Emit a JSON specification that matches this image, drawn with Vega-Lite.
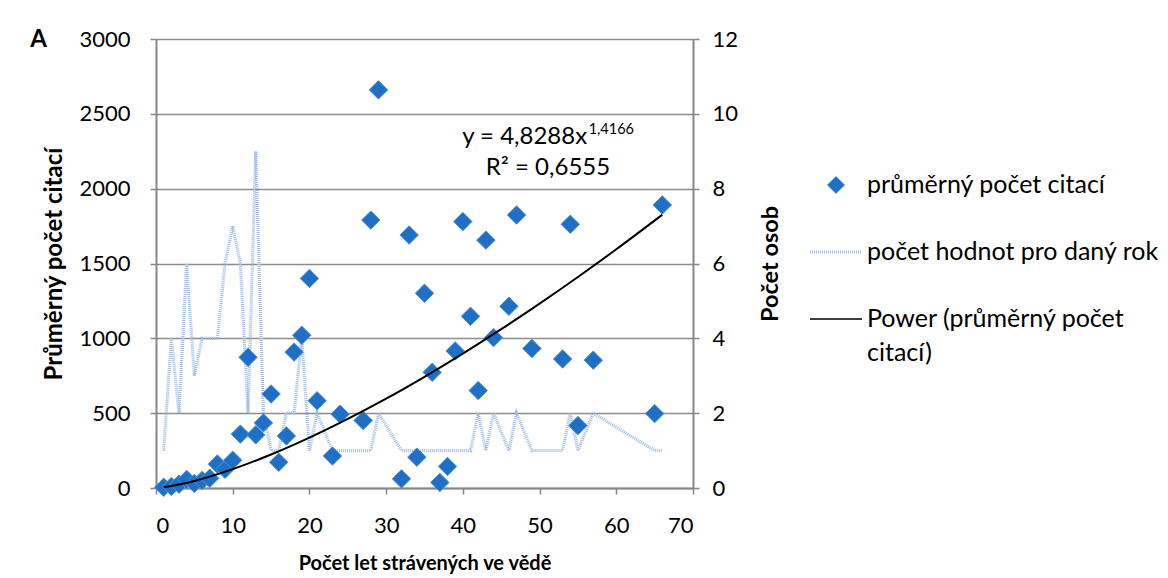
{
  "$schema": "https://vega.github.io/schema/vega-lite/v6.json",
  "width": 537,
  "height": 449,
  "autosize": "none",
  "padding": {"left": 156, "top": 39, "right": 475, "bottom": 90},
  "background": "white",
  "config": {"font": "Lato", "view": {"stroke": null}},
  "datasets": {
    "osoby": [
      {"rok": 1, "citace": 5, "osoby": 1},
      {"rok": 2, "citace": 10, "osoby": 4},
      {"rok": 3, "citace": 25, "osoby": 2},
      {"rok": 4, "citace": 57, "osoby": 6},
      {"rok": 5, "citace": 30, "osoby": 3},
      {"rok": 6, "citace": 50, "osoby": 4},
      {"rok": 7, "citace": 65, "osoby": 4},
      {"rok": 8, "citace": 160, "osoby": 4},
      {"rok": 9, "citace": 125, "osoby": 6},
      {"rok": 10, "citace": 185, "osoby": 7},
      {"rok": 11, "citace": 360, "osoby": 6},
      {"rok": 12, "citace": 873, "osoby": 2},
      {"rok": 13, "citace": 355, "osoby": 9},
      {"rok": 14, "citace": 435, "osoby": 2},
      {"rok": 15, "citace": 628, "osoby": 1},
      {"rok": 16, "citace": 172, "osoby": 1},
      {"rok": 17, "citace": 348, "osoby": 2},
      {"rok": 18, "citace": 908, "osoby": 2},
      {"rok": 19, "citace": 1020, "osoby": 4},
      {"rok": 20, "citace": 1400, "osoby": 1},
      {"rok": 21, "citace": 583, "osoby": 2},
      {"rok": 23, "citace": 214, "osoby": 1},
      {"rok": 24, "citace": 493, "osoby": 1},
      {"rok": 27, "citace": 451, "osoby": 1},
      {"rok": 28, "citace": 1790, "osoby": 1},
      {"rok": 29, "citace": 2660, "osoby": 2},
      {"rok": 32, "citace": 61, "osoby": 1},
      {"rok": 33, "citace": 1690, "osoby": 1},
      {"rok": 34, "citace": 206, "osoby": 1},
      {"rok": 35, "citace": 1301, "osoby": 1},
      {"rok": 36, "citace": 773, "osoby": 1},
      {"rok": 37, "citace": 37, "osoby": 1},
      {"rok": 38, "citace": 144, "osoby": 1},
      {"rok": 39, "citace": 916, "osoby": 1},
      {"rok": 40, "citace": 1780, "osoby": 1},
      {"rok": 41, "citace": 1147, "osoby": 1},
      {"rok": 42, "citace": 651, "osoby": 2},
      {"rok": 43, "citace": 1656, "osoby": 1},
      {"rok": 44, "citace": 1005, "osoby": 2},
      {"rok": 46, "citace": 1214, "osoby": 1},
      {"rok": 47, "citace": 1824, "osoby": 2},
      {"rok": 49, "citace": 932, "osoby": 1},
      {"rok": 53, "citace": 862, "osoby": 1},
      {"rok": 54, "citace": 1762, "osoby": 2},
      {"rok": 55, "citace": 417, "osoby": 1},
      {"rok": 57, "citace": 854, "osoby": 2},
      {"rok": 65, "citace": 497, "osoby": 1},
      {"rok": 66, "citace": 1891, "osoby": 1}
    ],
    "trend": [
      {"rok": 1, "fit": 4.8},
      {"rok": 2, "fit": 12.9},
      {"rok": 3, "fit": 22.9},
      {"rok": 5, "fit": 47.2},
      {"rok": 7, "fit": 76},
      {"rok": 10, "fit": 126},
      {"rok": 15, "fit": 224},
      {"rok": 20, "fit": 337},
      {"rok": 25, "fit": 462},
      {"rok": 30, "fit": 597},
      {"rok": 35, "fit": 743},
      {"rok": 40, "fit": 898},
      {"rok": 45, "fit": 1061},
      {"rok": 50, "fit": 1232},
      {"rok": 55, "fit": 1410},
      {"rok": 60, "fit": 1595},
      {"rok": 66, "fit": 1826}
    ]
  },
  "layer": [
    {
      "data": {"name": "osoby"},
      "mark": {"type": "line", "strokeWidth": 3.2, "strokeDash": [1, 1]},
      "encoding": {
        "x": {
          "field": "rok", "type": "quantitative",
          "scale": {"domain": [0, 70], "nice": false, "zero": false, "padding": 0},
          "axis": {
            "title": "Počet let strávených ve vědě",
            "values": [0, 10, 20, 30, 40, 50, 60, 70],
            "grid": false,
            "domainColor": "#878787", "domainWidth": 2,
            "tickColor": "#878787", "tickWidth": 1.5, "tickSize": 6,
            "labelFontSize": 22, "labelPadding": 21, "labelColor": "#000000",
            "titleFontSize": 20, "titleFontWeight": "bold", "titleColor": "#000000", "titlePadding": 17
          }
        },
        "y": {
          "field": "osoby", "type": "quantitative",
          "scale": {"domain": [0, 12], "nice": false, "padding": 0},
          "axis": {
            "orient": "right",
            "title": "Počet osob",
            "values": [0, 2, 4, 6, 8, 10, 12],
            "format": "d",
            "grid": false,
            "domainColor": "#878787", "domainWidth": 2,
            "tickColor": "#878787", "tickWidth": 1.5, "tickSize": 6,
            "labelFontSize": 22, "labelPadding": 13, "labelColor": "#000000",
            "titleFontSize": 23.5, "titleFontWeight": "bold", "titleColor": "#000000",
            "titleAngle": 270, "titleBaseline": "top", "titlePadding": 21
          }
        },
        "color": {
          "datum": "počet hodnot pro daný rok", "type": "nominal",
          "scale": {
            "domain": ["průměrný počet citací", "počet hodnot pro daný rok", "Power (průměrný počet citací)"],
            "range": ["#1F6FC5", "#9dbde6", "#000000"]
          },
          "legend": {
            "orient": "none", "legendX": 654, "legendY": 132, "title": null, "padding": 0,
            "symbolSize": 2704, "symbolStrokeWidth": 2,
            "labelFontSize": 25, "labelColor": "#000000", "labelLimit": 600, "labelOffset": 5,
            "rowPadding": 40,
            "labelExpr": "datum.label == 'Power (průměrný počet citací)' ? ['Power (průměrný počet', 'citací)'] : datum.label",
            "encode": {
              "symbols": {
                "update": {
                  "x": {"value": 26},
                  "y": {"value": 14},
                  "shape": {"signal": "datum.value == 'průměrný počet citací' ? 'diamond' : 'M-1,0H1'"},
                  "size": {"signal": "datum.value == 'průměrný počet citací' ? 280 : 2704"},
                  "fill": {"signal": "datum.value == 'průměrný počet citací' ? '#1F6FC5' : 'transparent'"},
                  "stroke": {"signal": "datum.value == 'průměrný počet citací' ? '#4F8FD6' : (datum.value == 'počet hodnot pro daný rok' ? '#9dbde6' : '#000000')"},
                  "strokeWidth": {"signal": "datum.value == 'počet hodnot pro daný rok' ? 3 : (datum.value == 'průměrný počet citací' ? 1 : 1.5)"},
                  "strokeDash": {"signal": "datum.value == 'počet hodnot pro daný rok' ? [1, 1] : []"},
                  "opacity": {"value": 1}
                }
              },
              "labels": {
                "update": {
                  "x": {"value": 57},
                  "y": {"value": 14},
                  "lineHeight": {"value": 34}
                }
              }
            }
          }
        }
      }
    },
    {
      "layer": [
        {
          "data": {"name": "osoby"},
          "mark": {"type": "point", "shape": "diamond", "filled": true, "size": 340, "stroke": "#4F8FD6", "strokeWidth": 1, "opacity": 1},
          "encoding": {
            "x": {"field": "rok", "type": "quantitative", "title": "Počet let strávených ve vědě"},
            "y": {
              "field": "citace", "type": "quantitative",
              "scale": {"domain": [0, 3000], "nice": false, "padding": 0},
              "axis": {
                "orient": "left",
                "title": "Průměrný počet citací",
                "values": [0, 500, 1000, 1500, 2000, 2500, 3000],
                "format": "d",
                "grid": true, "gridColor": "#8c8c8c", "gridWidth": 1.5,
                "domainColor": "#878787", "domainWidth": 2,
                "tickColor": "#878787", "tickWidth": 1.5, "tickSize": 6,
                "labelFontSize": 22, "labelPadding": 20, "labelColor": "#000000",
                "titleFontSize": 24, "titleFontWeight": "bold", "titleColor": "#000000", "titlePadding": 12
              }
            },
            "color": {"datum": "průměrný počet citací", "type": "nominal"}
          }
        },
        {
          "data": {"name": "trend"},
          "mark": {"type": "line", "strokeWidth": 2, "interpolate": "monotone"},
          "encoding": {
            "x": {"field": "rok", "type": "quantitative", "title": "Počet let strávených ve vědě"},
            "y": {"field": "fit", "type": "quantitative", "title": "Průměrný počet citací"},
            "color": {"datum": "Power (průměrný počet citací)", "type": "nominal"}
          }
        },
        {
          "data": {"values": [{}]},
          "mark": {"type": "text", "text": "y = 4,8288x", "align": "right", "baseline": "middle", "fontSize": 24, "color": "#000000"},
          "encoding": {"x": {"datum": 56.2}, "y": {"datum": 2343}}
        },
        {
          "data": {"values": [{}]},
          "mark": {"type": "text", "text": "1,4166", "align": "left", "baseline": "middle", "fontSize": 14.5, "color": "#000000"},
          "encoding": {"x": {"datum": 56.4}, "y": {"datum": 2395}}
        },
        {
          "data": {"values": [{}]},
          "mark": {"type": "text", "text": "R² = 0,6555", "align": "right", "baseline": "middle", "fontSize": 24, "color": "#000000"},
          "encoding": {"x": {"datum": 59.2}, "y": {"datum": 2136}}
        },
        {
          "data": {"values": [{}]},
          "mark": {"type": "text", "text": "A", "align": "center", "baseline": "middle", "fontSize": 24, "fontWeight": "bold", "color": "#000000"},
          "encoding": {"x": {"datum": -15.3}, "y": {"datum": 2991}}
        }
      ]
    }
  ],
  "resolve": {"scale": {"y": "independent"}, "axis": {"y": "independent"}}
}
